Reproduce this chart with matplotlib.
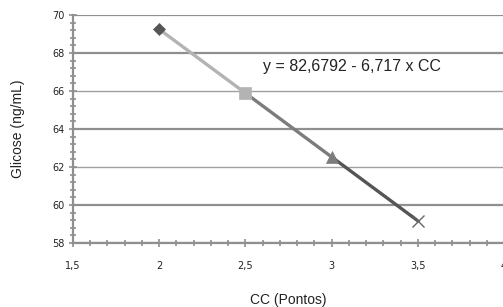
import matplotlib
matplotlib.use("Agg")
import matplotlib.pyplot as plt
from matplotlib.ticker import MultipleLocator, FixedLocator

cc = [2.0, 2.5, 3.0, 3.5]
glicose = [69.25, 65.89, 62.53, 59.17]
seg_colors = ["#b3b3b3", "#7c7c7c", "#555555"]
markers = ["D", "s", "^", "x"]
marker_colors = ["#555555", "#b3b3b3", "#7c7c7c", "#666666"]
marker_sizes = [6, 8, 8, 8]
x_ticks = [1.5, 2.0, 2.5, 3.0, 3.5, 4.0]
x_ticklabels = ["1,5", "2", "2,5", "3", "3,5", "4"]
y_ticks = [58, 60, 62, 64, 66, 68, 70]
equation = "y = 82,6792 - 6,717 x CC"

plt.rcParams['font.family'] = ['Liberation Sans', 'DejaVu Sans']

fig = plt.figure(figsize=(5.03, 3.07), dpi=100)
ax = fig.add_axes([73/503, 1 - 243/307, 1 - 73/503 + 0.002, (243 - 15)/307])

for i in range(len(cc) - 1):
    ax.plot(cc[i:i+2], glicose[i:i+2], color=seg_colors[i], lw=2.4,
            solid_capstyle='butt', zorder=3)
for x, y, m, c, s in zip(cc, glicose, markers, marker_colors, marker_sizes):
    ax.plot([x], [y], marker=m, color=c, markersize=s, mew=1.0 if m == 'x' else 0.5,
            linestyle='none', zorder=4)

ax.set_xlim(1.5, 4.0)
ax.set_ylim(58, 70)
ax.xaxis.set_major_locator(FixedLocator(x_ticks))
ax.set_xticklabels(x_ticklabels)
ax.xaxis.set_minor_locator(MultipleLocator(0.1))
ax.yaxis.set_major_locator(FixedLocator(y_ticks))
ax.yaxis.set_minor_locator(MultipleLocator(0.4))

ax.grid(True, axis='y', which='major', color='#8f8f8f', lw=1.6)
for gl, v in zip(ax.yaxis.get_gridlines(), y_ticks):
    if v in (62, 66):
        gl.set_linewidth(1.0)
        gl.set_color('#a0a0a0')

for side in ('top', 'right'):
    ax.spines[side].set_visible(False)
for side in ('left', 'bottom'):
    ax.spines[side].set_color('#8f8f8f')
    ax.spines[side].set_linewidth(1.6)

ax.tick_params(which='both', direction='inout', color='#8f8f8f', width=1.2,
               labelsize=7, labelcolor='#222222')
ax.tick_params(which='major', length=6)
ax.tick_params(which='minor', length=5)
ax.tick_params(axis='y', which='major', pad=3)
ax.tick_params(axis='x', which='major', pad=10)
for lab in ax.get_xticklabels() + ax.get_yticklabels():
    lab.set_fontfamily('DejaVu Sans')

ax.set_xlabel("CC (Pontos)", fontsize=10, color='#222222', labelpad=16)
ax.set_ylabel("Glicose (ng/mL)", fontsize=10, color='#222222', labelpad=20)

ax.text(2.6, 67.3, equation, fontsize=11.5, color='#222222', va='center', ha='left')

fig.savefig("out.png", dpi=100)
